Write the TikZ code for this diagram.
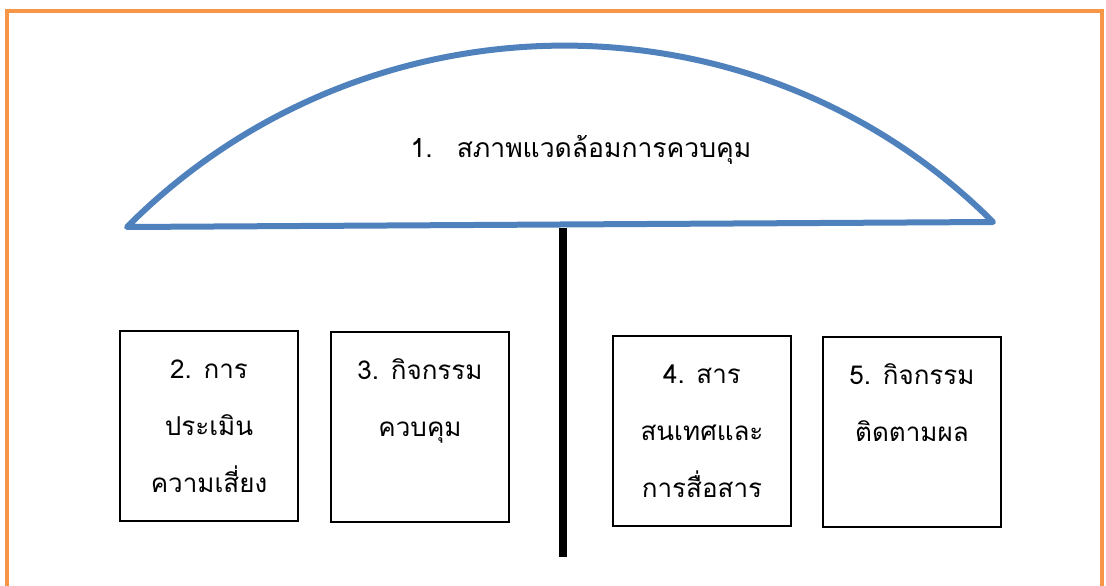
\documentclass[tikz,border=0pt]{standalone}
\usepackage{fontspec}
\newfontfamily\thaifont[Script=Thai]{Loma}
\usetikzlibrary{positioning}
\definecolor{umbrella}{RGB}{79,129,189}
\definecolor{framecol}{RGB}{247,150,70}
\begin{document}
\begin{tikzpicture}[x=1pt,y=-1pt,
  box/.style={draw, line width=1.1pt, minimum width=178pt, minimum height=190pt, inner sep=0pt},
  txt/.style={font=\thaifont\fontsize{26}{57}\selectfont, align=center, inner sep=0pt, anchor=base},
  title/.style={font=\thaifont\fontsize{26.5}{30}\selectfont, inner sep=0pt, anchor=base}]
\useasboundingbox (0,0) rectangle (1106,586);
\draw [framecol, line width=4pt] (7,586) -- (7,11) -- (1102,11) -- (1102,586);
\coordinate (poletop) at (563,228);
\coordinate (polefoot) at (563,557);
\draw [line width=8pt] (poletop) -- (polefoot);
\coordinate (left) at (127,227);
\coordinate (right) at (993,222);
\draw [umbrella, line width=6pt, line join=round] (left) .. controls (365,-12) and (755,-16) .. (right) -- cycle;
\node [title] (env) at (581,157) {1.\hspace{24pt}สภาพแวดล้อมการควบคุม};
\node [box] (risk) at (209,426) {};
\node [box] (act) at (420,427) {};
\node [box] (info) at (702,431) {};
\node [box] (mon) at (912,432) {};
% base anchor sits on the last line
\node [txt] (risktxt) at ([yshift=-162pt]risk.north) {2. การ\\ประเมิน\\ความเสี่ยง};
\node [txt] (acttxt) at ([yshift=-105pt]act.north) {3. กิจกรรม\\ควบคุม};
\node [txt] (infotxt) at ([yshift=-162pt]info.north) {4. สาร\\สนเทศและ\\การสื่อสาร};
\node [txt] (montxt) at ([yshift=-105pt]mon.north) {5. กิจกรรม\\ติดตามผล};
\end{tikzpicture}
\end{document}
